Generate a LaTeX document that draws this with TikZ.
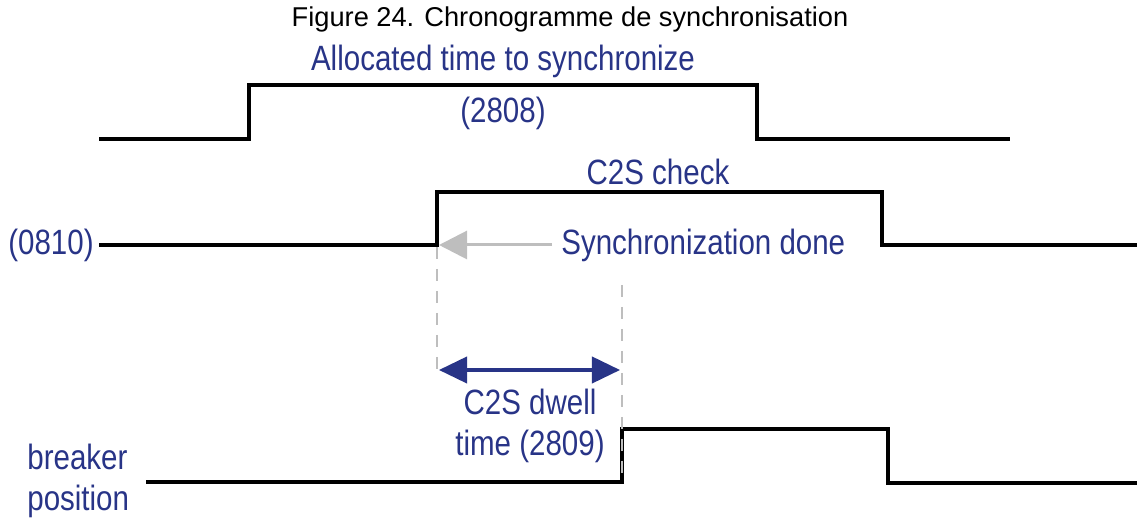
\documentclass[tikz,border=0pt]{standalone}
\usepackage{fontspec}
\setmainfont{Liberation Sans}
\newfontfamily\condfont[FakeStretch=0.84]{Liberation Sans}
\usepackage{tikz}
\usetikzlibrary{arrows.meta,positioning,calc}
\definecolor{ink}{RGB}{0,0,0}
\definecolor{lblue}{RGB}{40,52,135}
\definecolor{guide}{RGB}{190,190,190}
\tikzset{
  sig/.style={draw=ink,line width=1.8pt,line join=miter},
  lbl/.style={inner sep=0pt,text=lblue,font=\condfont\fontsize{20}{23.8}\selectfont},
  ttl/.style={inner sep=0pt,font=\fontsize{15.5}{18}\selectfont},
  guideline/.style={draw=guide,line width=1.7pt,dash pattern=on 7pt off 5.5pt},
  ptr/.style={-{Triangle[length=16pt,width=16pt]},guide,line width=1.7pt},
  span/.style={{Triangle[length=16pt,width=15pt]}-{Triangle[length=16pt,width=15pt]},lblue,line width=1.8pt},
}

\begin{document}
\begin{tikzpicture}[x=0.02cm,y=-0.02cm]
  \useasboundingbox (0,0) rectangle (1137,519);
  \node[ttl] (title) at (570,19) {Figure 24. Chronogramme de synchronisation};
  % signals
  \draw[sig] (99,139) -- (249,139) -- (249,85) -- (757,85) -- (757,139) -- (1010,139);
  \draw[sig] (99,245) -- (437,245) -- (437,192) -- (882,192) -- (882,245) -- (1137,245);
  \draw[sig] (146,482) -- (622,482) -- (622,429) -- (888,429) -- (888,483) -- (1137,483);
  % labels
  \node[lbl] (alloc) at (503,61) {Allocated time to synchronize};
  \node[lbl] (a2808) at (503,113) {(2808)};
  \node[lbl] (check) at (658,172) {C2S check};
  \node[lbl,anchor=east] (a0810) at (94,245) {(0810)};
  \node[lbl,anchor=west] (done) at (561,245) {Synchronization done};
  \node[lbl,align=center] (dwell) at (530,426) {C2S dwell\\time (2809)};
  \node[lbl,align=left,anchor=west] (breaker) at (27,481) {breaker\\position};
  % guides
  \coordinate (rise) at (437,247);
  \coordinate (riseend) at (437,372);
  \coordinate (close) at (622,285);
  \coordinate (closeend) at (622,482);
  \draw[guideline] (rise) -- (riseend);
  \draw[guideline] (close) -- (closeend);
  \draw[ptr] ($(done.west)+(-9,0)$) -- (439,245);
  \draw[span] (439,370) -- (620,370);
\end{tikzpicture}
\end{document}
